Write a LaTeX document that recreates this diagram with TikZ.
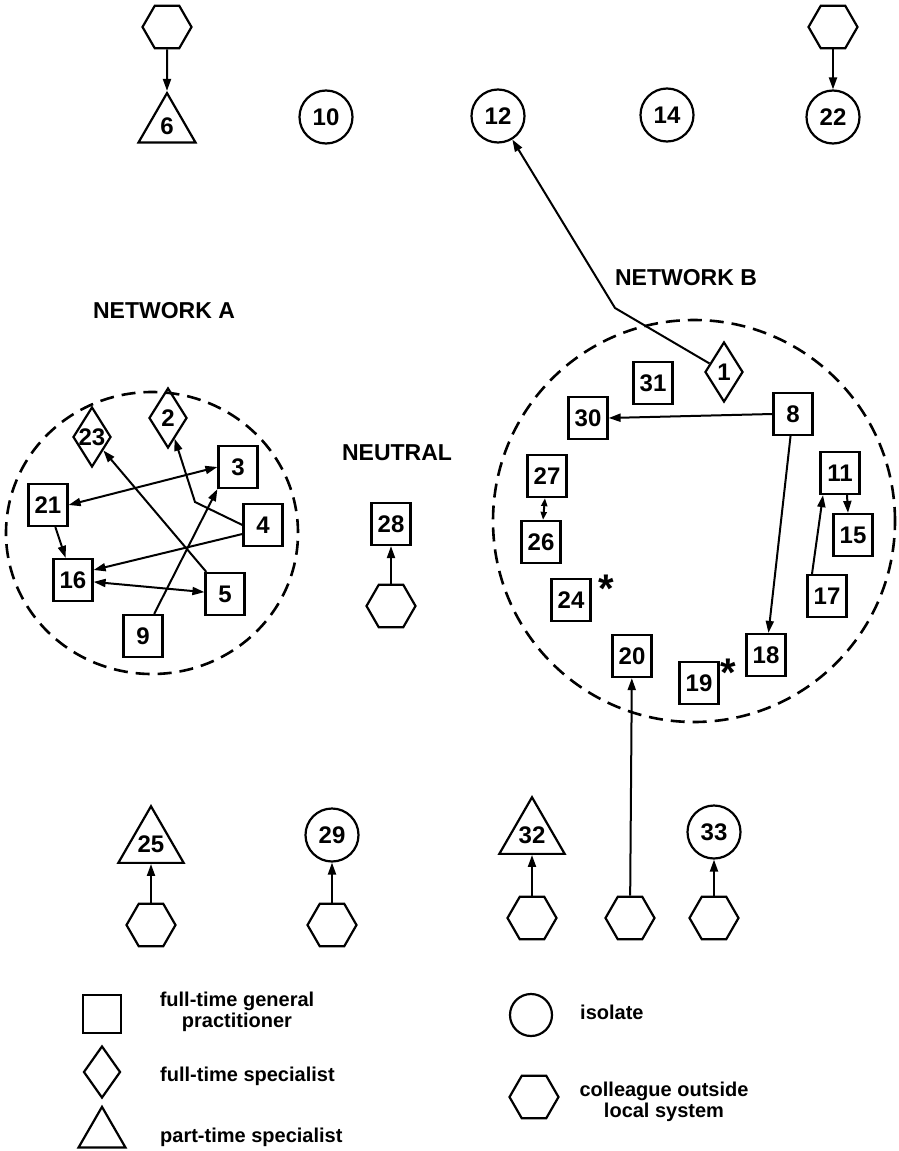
\documentclass[tikz,border=0pt]{standalone}
\usepackage{fontspec}
\setmainfont{Liberation Sans}
\usetikzlibrary{arrows.meta,shapes.geometric}
\begin{document}
\begin{tikzpicture}[x=1pt,y=-1pt,
  every node/.style={font=\fontsize{24}{27}\selectfont\bfseries, inner sep=0pt},
  gp/.style={draw, line width=2.2pt, minimum width=39pt, minimum height=42pt},
  fs/.style={draw, line width=2.2pt, diamond, aspect=0.633, minimum width=38pt, minimum height=60pt},
  ps/.style={draw, line width=2.2pt, regular polygon, regular polygon sides=3, minimum size=65.8pt},
  iso/.style={draw, line width=2.2pt, circle, minimum size=53pt},
  col/.style={draw, line width=2.2pt, regular polygon, regular polygon sides=6, minimum size=49pt},
  arr/.style={line width=2pt, -{Triangle[length=12pt,width=8pt]}},
  darr/.style={line width=2pt, {Triangle[length=12pt,width=8pt]}-{Triangle[length=12pt,width=8pt]}},
  sdarr/.style={line width=2pt, {Triangle[length=8pt,width=6pt]}-{Triangle[length=8pt,width=6pt]}},
  net/.style={draw, line width=2.6pt, dash pattern=on 14pt off 8pt},
  lbl/.style={font=\fontsize{23}{26}\selectfont\bfseries},
  leg/.style={font=\fontsize{20}{21}\selectfont\bfseries, align=center},
  star/.style={font=\fontsize{40}{40}\selectfont\bfseries, anchor=north}
]
\useasboundingbox (0,0) rectangle (899,1151);

% top row
\node[col] (h6) at (167,27) {};
\node[ps] (n6) at (167,126) {6};
\node[iso] (n10) at (326,117) {10};
\node[iso] (n12) at (498,116) {12};
\node[iso] (n14) at (667,115) {14};
\node[iso] (n22) at (833,117) {22};
\node[col] (h22) at (833,27) {};
\draw[arr] (h6) -- (n6);
\draw[arr] (h22) -- (n22);

% labels
\node[lbl] (labA) at (164,311) {NETWORK A};
\node[lbl] (labB) at (686,278) {NETWORK B};
\node[lbl] (labN) at (397,453) {NEUTRAL};

% network A
\node[net, ellipse, minimum width=292pt, minimum height=282pt] (netA) at (152,533) {};
\node[fs] (n23) at (92,437) {23};
\node[fs] (n2) at (168,418) {2};
\node[gp] (n3) at (238,467) {3};
\node[gp] (n21) at (48,505) {21};
\node[gp] (n4) at (263,525) {4};
\node[gp] (n16) at (73,580) {16};
\node[gp] (n5) at (225,594) {5};
\node[gp] (n9) at (143,636) {9};
\coordinate (b42) at (195,502);
\draw[darr] (n21.east) -- (n3.west);
\draw[arr] (n21) -- (n16);
\draw[arr] (n4.west) -- (b42) -- (n2);
\draw[arr] (n5) -- (n23);
\draw[arr] ([yshift=-9pt]n4.west) -- ([yshift=10pt]n16.east);
\draw[darr] (n16) -- (n5);
\draw[arr] (n9) -- (n3.south west);

% neutral
\node[gp] (n28) at (391,524) {28};
\node[col] (h28) at (391,606) {};
\draw[arr] (h28) -- (n28);

% network B
\node[net, circle, minimum size=402pt] (netB) at (694,521) {};
\node[fs] (n1) at (724,372) {1};
\node[gp] (n31) at (653,383) {31};
\node[gp] (n30) at (588,418) {30};
\node[gp] (n8) at (793,414) {8};
\node[gp] (n27) at (547,476) {27};
\node[gp] (n26) at (541,542) {26};
\node[gp] (n11) at (840,473) {11};
\node[gp] (n15) at (853,535) {15};
\node[gp] (n17) at (827,596) {17};
\node[gp] (n24) at (571,600) {24};
\node[gp] (n20) at (632,656) {20};
\node[gp] (n18) at (766,655) {18};
\node[gp] (n19) at (699,683) {19};
\node[star] (s24) at (606,575) {*};
\node[star] (s19) at (728,659) {*};
\coordinate (b112) at (615,308);
\draw[arr] (n1) -- (b112) -- (n12);
\draw[arr] (n8.west) -- (n30.east);
\draw[arr] (n8) -- (n18);
\draw[sdarr] (n27) -- (n26);
\draw[arr] ([xshift=7pt]n11.south) -- ([xshift=-5pt]n15.north);
\draw[arr] ([xshift=-15pt]n17.north) -- ([xshift=-17pt]n11.south);

% bottom row
\node[ps] (n25) at (151,844) {25};
\node[col] (h25) at (151,925) {};
\node[iso] (n29) at (332,835) {29};
\node[col] (h29) at (332,925) {};
\node[ps] (n32) at (532,835) {32};
\node[col] (h32) at (532,918) {};
\node[col] (h20) at (630,918) {};
\node[iso] (n33) at (714,832) {33};
\node[col] (h33) at (714,918) {};
\draw[arr] (h25) -- (n25);
\draw[arr] (h29) -- (n29);
\draw[arr] (h32) -- (n32);
\draw[arr] (h20) -- (n20);
\draw[arr] (h33) -- (n33);

% legend
\node[gp, minimum width=38pt, minimum height=38pt] (lgp) at (102,1014) {};
\node[fs, minimum width=37pt, minimum height=52pt] (lfs) at (102,1072) {};
\node[ps, minimum size=54.3pt] (lps) at (102,1134) {};
\node[iso, minimum size=42pt] (liso) at (531,1015) {};
\node[col] (lcol) at (534,1097) {};
\node[leg] (tgp) at (237,1012) {full-time general\\practitioner};
\node[leg, anchor=west] (tfs) at (160,1076) {full-time specialist};
\node[leg, anchor=west] (tps) at (160,1137) {part-time specialist};
\node[leg, anchor=west] (tiso) at (580,1012) {isolate};
\node[leg] (tcol) at (664,1102) {colleague outside\\local system};
\end{tikzpicture}
\end{document}
